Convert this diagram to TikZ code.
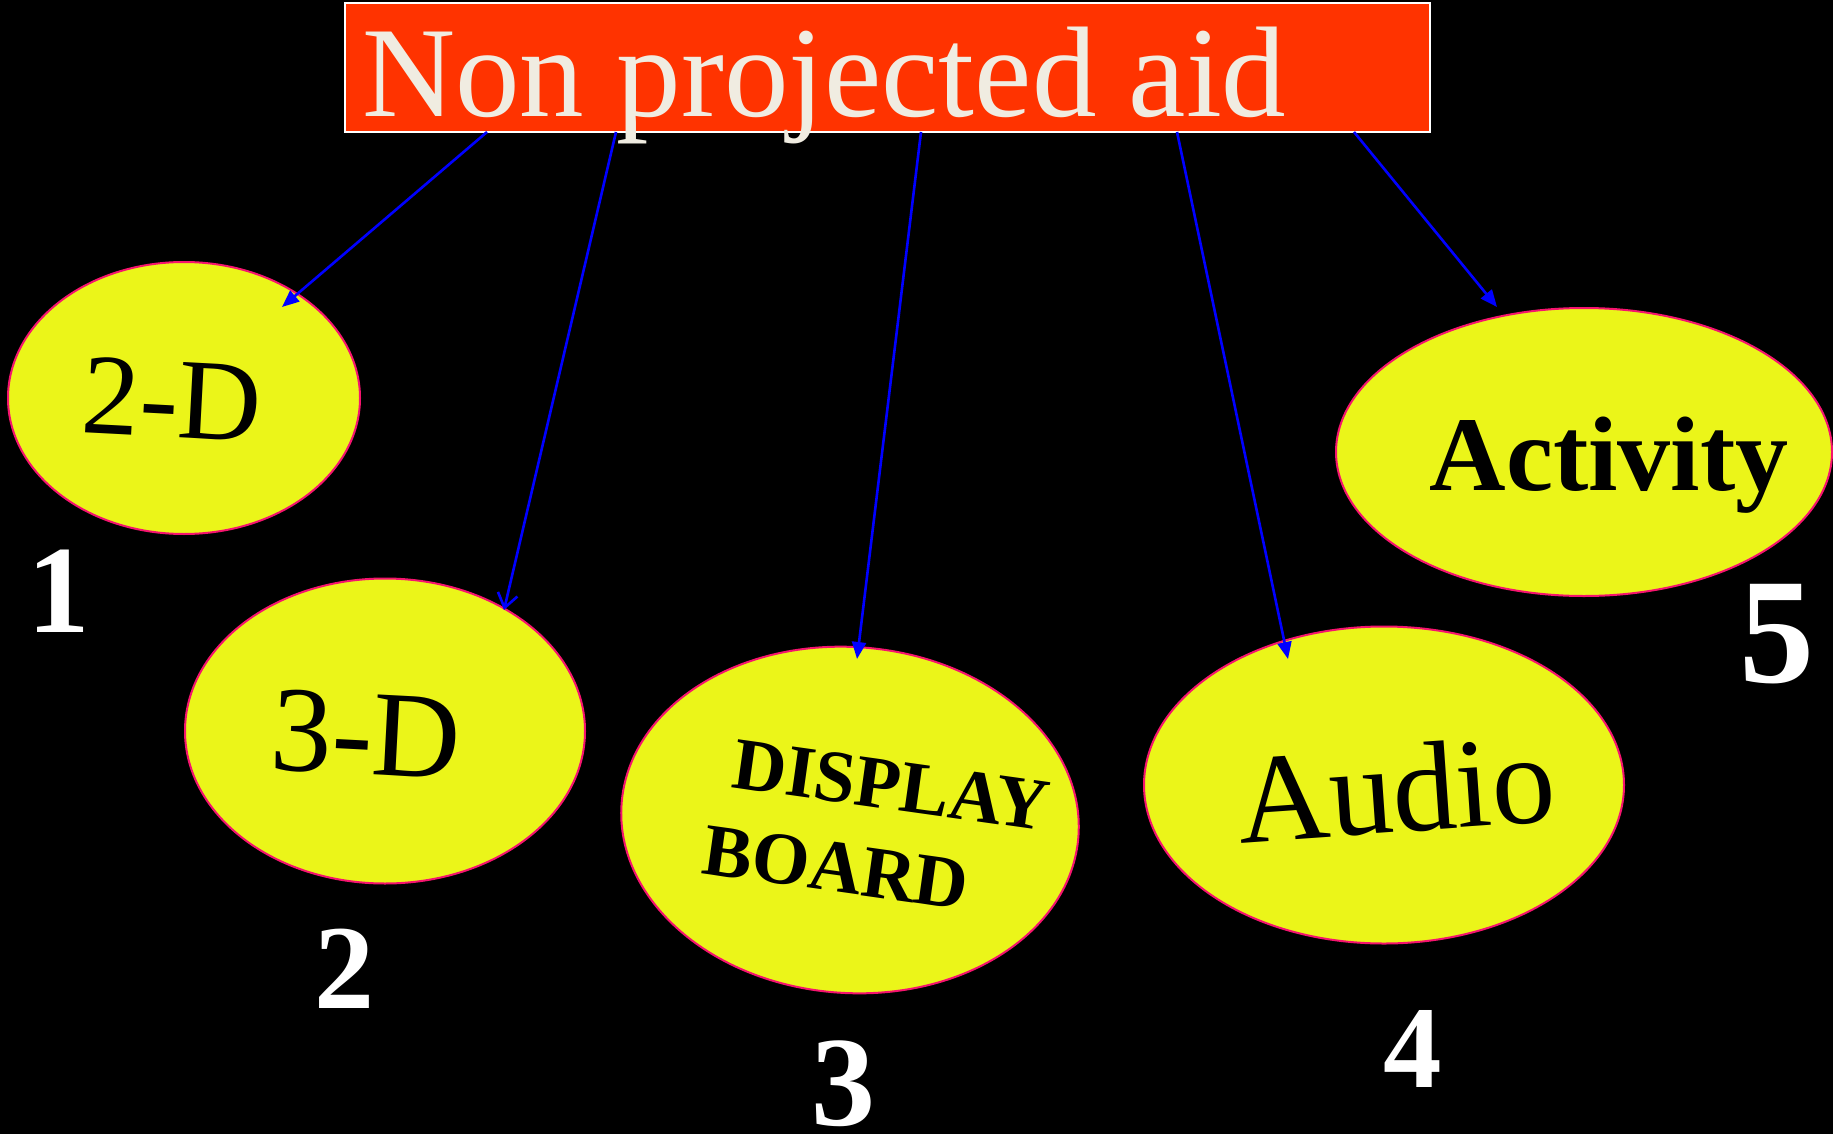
\documentclass[tikz,border=0pt]{standalone}
\usepackage{fontspec}
\setmainfont{Liberation Serif}
\usetikzlibrary{shapes.geometric,arrows.meta}
\definecolor{ellfill}{RGB}{235,245,25}
\definecolor{ellline}{RGB}{245,20,110}
\definecolor{titlefill}{RGB}{255,51,0}
\definecolor{titletext}{RGB}{240,236,225}
\definecolor{arrblue}{RGB}{0,0,255}
\tikzset{
  ell/.style={ellipse, draw=ellline, line width=2pt, fill=ellfill, inner sep=0pt, outer sep=0pt},
  arr/.style={draw=arrblue, line width=2.6pt, -{Triangle[length=17pt,width=14pt]}},
  arropen/.style={draw=arrblue, line width=2.6pt, -{Straight Barb[length=14pt,width=20pt]}},
  lbl/.style={text=black, inner sep=0pt},
  num/.style={text=white, inner sep=0pt, font=\bfseries\fontsize{125}{150}\selectfont},
}
\begin{document}
\begin{tikzpicture}[x=1pt,y=-1pt]
\useasboundingbox (0,0) rectangle (1833,1134);
\fill[black] (0,0) rectangle (1833,1134);
% title
\node[rectangle, draw=white, line width=2pt, fill=titlefill, minimum width=1085pt, minimum height=129pt, inner sep=0pt, outer sep=0pt, anchor=north west] (title) at (345,3) {};
\node[text=titletext, inner sep=0pt, anchor=base west, font=\fontsize{129}{150}\selectfont] (titletxt) at (362,117) {Non projected aid};
% ellipses
\node[ell, minimum width=352pt, minimum height=272pt] (e1) at (184,398) {};
\node[ell, minimum width=400pt, minimum height=305pt] (e2) at (385,731) {};
\node[ell, minimum width=458pt, minimum height=346pt, rotate=-4] (e3) at (850,820) {};
\node[ell, minimum width=480pt, minimum height=317pt] (e4) at (1384,785) {};
\node[ell, minimum width=496pt, minimum height=288pt] (e5) at (1584,452) {};
% ellipse texts
\node[lbl, anchor=base, rotate=-3, font=\fontsize{115}{138}\selectfont] (l1) at (170,437) {2-D};
\node[lbl, anchor=base, rotate=-3, font=\fontsize{122}{146}\selectfont] (l2) at (364,774) {3-D};
\node[lbl, anchor=base west, rotate=-8, font=\bfseries\fontsize{74}{88}\selectfont] (l3a) at (730,787) {DISPLAY};
\node[lbl, anchor=base west, rotate=-8, font=\bfseries\fontsize{74}{88}\selectfont] (l3b) at (700,873) {BOARD};
\node[lbl, anchor=base, rotate=4, font=\fontsize{127}{150}\selectfont] (l4) at (1399,832) {Audio};
\node[lbl, anchor=base, font=\bfseries\fontsize{106}{126}\selectfont] (l5) at (1609,490) {Activity};
% numbers
\node[num, anchor=base] (n1) at (59,632) {1};
\node[num, anchor=base, font=\bfseries\fontsize{120}{144}\selectfont] (n2) at (344,1008) {2};
\node[num, anchor=base, font=\bfseries\fontsize{128}{154}\selectfont] (n3) at (843,1125) {3};
\node[num, anchor=base, font=\bfseries\fontsize{117}{140}\selectfont] (n4) at (1413,1087) {4};
\node[num, anchor=base, font=\bfseries\fontsize{150}{180}\selectfont] (n5) at (1777,682) {5};
% arrow tips
\coordinate (t1) at (282,307);
\coordinate (t2) at (504,610);
\coordinate (t3) at (857,659);
\coordinate (t4) at (1288,659);
\coordinate (t5) at (1497,307);
% connectors
\draw[arr] ([xshift=142pt]title.south west) -- (t1);
\draw[arropen] ([xshift=271pt]title.south west) -- (t2);
\draw[arr] ([xshift=576pt]title.south west) -- (t3);
\draw[arr] ([xshift=832pt]title.south west) -- (t4);
\draw[arr] ([xshift=1009pt]title.south west) -- (t5);
\end{tikzpicture}
\end{document}
